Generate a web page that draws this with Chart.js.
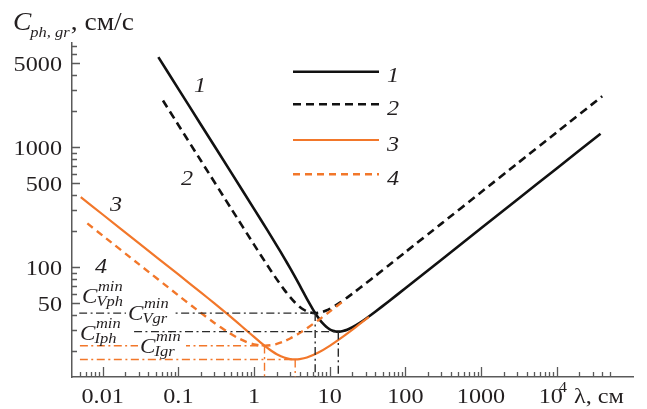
<!DOCTYPE html>
<html>
<head>
<meta charset="utf-8">
<script src="https://cdn.jsdelivr.net/npm/chart.js@4.4.1/dist/chart.umd.min.js"></script>
<style>
  body { margin: 0; background: #fff; }
  canvas { display: block; }
</style>
</head>
<body>
<canvas id="chart" width="647" height="409"></canvas>
<script>
// curve 1: group velocity, case V (black solid)
const lamVgr = [0.0544, 0.1, 0.2, 0.5, 1, 1.5, 2, 2.5, 3, 3.5, 4, 4.5, 5, 5.5, 6, 6.5, 7, 7.5, 8, 9, 10, 11, 12, 13, 14, 15, 17, 20, 25, 30, 40, 60, 100, 300, 1000, 3000, 10000, 38000];
const cVgr   = [5636, 3066, 1533, 613.0, 306.1, 203.1, 151.1, 119.4, 97.89, 82.31, 70.55, 61.47, 54.36, 48.77, 44.35, 40.85, 38.09, 35.89, 34.16, 31.72, 30.26, 29.43, 29.03, 28.92, 29.01, 29.25, 29.99, 31.46, 34.24, 37.06, 42.38, 51.64, 66.55, 115.2, 210.4, 364.4, 665.2, 1297];
// curve 2: phase velocity, case V (black dashed)
const lamVph = [0.0626, 0.1, 0.2, 0.5, 1, 1.5, 2, 2.5, 3, 3.5, 4, 4.5, 5, 5.5, 6, 6.5, 7, 7.5, 8, 9, 10, 11, 12, 14, 17, 20, 25, 30, 40, 60, 100, 300, 1000, 3000, 10000, 40000];
const cVph   = [2449, 1533, 766.5, 306.7, 153.9, 103.5, 78.9, 64.83, 56.05, 50.38, 46.66, 44.24, 42.72, 41.84, 41.41, 41.31, 41.46, 41.78, 42.23, 43.39, 44.78, 46.27, 47.82, 50.97, 55.59, 59.99, 66.80, 73.05, 84.23, 103.1, 133.1, 230.4, 420.7, 728.7, 1330, 2661];
// curve 3: group velocity, case I (orange solid)
const lamIgr = [0.00513, 0.01, 0.03, 0.1, 0.2, 0.3, 0.45, 0.6, 0.8, 1, 1.25, 1.5, 1.75, 2, 2.5, 3, 3.5, 4, 5, 7, 10, 15, 20, 25, 33];
const cIgr   = [383.3, 274.5, 158.5, 86.74, 61.18, 49.75, 40.29, 34.55, 29.52, 26.12, 23.18, 21.16, 19.75, 18.76, 17.59, 17.08, 16.95, 17.05, 17.60, 19.27, 22.02, 26.30, 30.10, 33.51, 38.38];
// curve 4: phase velocity, case I (orange dashed)
const lamIph = [0.00627, 0.01, 0.03, 0.1, 0.15, 0.2, 0.3, 0.45, 0.6, 0.8, 1, 1.2, 1.4, 1.7, 2, 2.5, 3, 4, 5, 7, 10, 15];
const cIph   = [231.2, 183.0, 105.7, 58.03, 47.54, 41.36, 34.20, 28.71, 25.78, 23.67, 22.63, 22.17, 22.07, 22.32, 22.84, 24.01, 25.35, 28.14, 30.85, 35.87, 42.47, 51.74];

// minima: C_Vph, C_Vgr, C_Iph, C_Igr
const minNames = ['Vph', 'Vgr', 'Iph', 'Igr'];
const minLam   = [6.43, 13, 1.376, 3.5];
const minVal   = [41.31, 28.92, 22.07, 16.95];
const minFrom  = [0.0049, 0.026, 0.005, 0.005];

const xMin = 0.00393, xMax = 1.02e5;
const yMin = 12.1, yMax = 7400;
const xMajor = [0.01, 0.1, 1, 10, 100, 1000, 10000];
const xLabels = ['0.01', '0.1', '1', '10', '100', '1000', '10'];
const yMajor = [50, 100, 500, 1000, 5000];
const yLabels = ['50', '100', '500', '1000', '5000'];
const curveNames = ['1', '2', '3', '4'];

const ORANGE = '#f2772a';
const BLACK = '#111111';
const TEXT = '#231f20';
const AXIS = '#5a5a5a';
const SERIF = '"Liberation Serif", "Times New Roman", serif';
const SX = 1.1;

const pts = (xs, ys) => xs.map((x, i) => ({ x: x, y: ys[i] }));

const datasets = [];
minNames.forEach((n, i) => {
  const col = i < 2 ? '#2a2a2a' : ORANGE;
  datasets.push({
    label: 'h' + n,
    data: [{ x: minFrom[i], y: minVal[i] }, { x: minLam[i], y: minVal[i] }],
    borderColor: col, borderWidth: 1.4, borderDash: [8, 3.5, 2, 3.5]
  });
  datasets.push({
    label: 'v' + n,
    data: [{ x: minLam[i], y: minVal[i] }, { x: minLam[i], y: yMin }],
    borderColor: col, borderWidth: 1.4, borderDash: [8, 3.5, 2, 3.5]
  });
});
datasets.push({ label: '4', data: pts(lamIph, cIph), borderColor: ORANGE, borderWidth: 2.4, borderDash: [7, 5] });
datasets.push({ label: '3', data: pts(lamIgr, cIgr), borderColor: ORANGE, borderWidth: 2.2 });
datasets.push({ label: '2', data: pts(lamVph, cVph), borderColor: BLACK, borderWidth: 2.6, borderDash: [8, 5] });
datasets.push({ label: '1', data: pts(lamVgr, cVgr), borderColor: BLACK, borderWidth: 2.6 });
datasets.forEach(d => {
  d.showLine = true;
  d.pointRadius = 0;
  d.tension = 0.2;
  d.fill = false;
});

function txt(ctx, s, x, y, font, align, color) {
  ctx.save();
  ctx.font = font;
  ctx.fillStyle = color || TEXT;
  ctx.textBaseline = 'alphabetic';
  const w = ctx.measureText(s).width * SX;
  const x0 = align === 'right' ? x - w : align === 'center' ? x - w / 2 : x;
  ctx.translate(x0, y);
  ctx.scale(SX, 1);
  ctx.fillText(s, 0, 0);
  ctx.restore();
  return w;
}

function minLabel(ctx, sub, x, b, blank) {
  const fC = 'italic 21px ' + SERIF;
  const fS = 'italic 15px ' + SERIF;
  if (blank) {
    ctx.save();
    ctx.fillStyle = '#fff';
    ctx.fillRect(x - 2, b - 17, 48, 22);
    ctx.restore();
  }
  const w = txt(ctx, 'C', x, b, fC);
  txt(ctx, 'min', x + w + 0.5, b - 12, fS);
  txt(ctx, sub, x + w - 1, b + 3, fS);
}

const decor = {
  id: 'decor',
  afterDatasetsDraw(chart) {
    const ctx = chart.ctx;
    const xs = chart.scales.x, ys = chart.scales.y;
    const a = chart.chartArea;

    // inward ticks
    ctx.save();
    ctx.strokeStyle = AXIS;
    ctx.lineWidth = 1.3;
    ctx.beginPath();
    for (let e = -3; e <= 4; e++) {
      for (let m = 1; m <= 9; m++) {
        const v = m * Math.pow(10, e);
        if (v < 0.0049 || v > 50001) continue;
        const px = Math.round(xs.getPixelForValue(v)) + 0.5;
        const len = m === 1 ? 10 : 5;
        ctx.moveTo(px, a.bottom);
        ctx.lineTo(px, a.bottom - len);
      }
    }
    for (let e = 1; e <= 3; e++) {
      for (let m = 1; m <= 9; m++) {
        const v = m * Math.pow(10, e);
        if (v < yMin || v > yMax) continue;
        const py = Math.round(ys.getPixelForValue(v)) + 0.5;
        const len = yMajor.includes(v) ? 8 : 5;
        ctx.moveTo(a.left, py);
        ctx.lineTo(a.left + len, py);
      }
    }
    ctx.stroke();
    ctx.restore();

    // tick labels
    const fT = '22px ' + SERIF;
    xMajor.forEach((v, i) => {
      const px = xs.getPixelForValue(v);
      if (v === 10000) {
        txt(ctx, '10', px - 18, 403, fT);
        txt(ctx, '4', px + 2, 392, '15px ' + SERIF);
      } else {
        txt(ctx, xLabels[i], px, 403, fT, 'center');
      }
    });
    txt(ctx, 'λ, см', 574, 403, fT);
    yMajor.forEach((v, i) => {
      const py = ys.getPixelForValue(v);
      txt(ctx, yLabels[i], 62, py + 7.5, fT, 'right');
    });

    // axis title
    const w = txt(ctx, 'C', 13, 30, 'italic 25px ' + SERIF);
    const ws = txt(ctx, 'ph, gr', 13 + w - 1, 37, 'italic 15px ' + SERIF);
    txt(ctx, ', см/с', Math.max(69, 13 + w + ws), 30, '25px ' + SERIF);

    // legend
    const legY = [71.7, 104.3, 140, 174.3];
    curveNames.forEach((name, i) => {
      const d = chart.data.datasets.find(s => s.label === name);
      ctx.save();
      ctx.strokeStyle = d.borderColor;
      ctx.lineWidth = d.borderWidth;
      ctx.setLineDash(d.borderDash || []);
      ctx.beginPath();
      ctx.moveTo(293, legY[i]);
      ctx.lineTo(379, legY[i]);
      ctx.stroke();
      ctx.restore();
      txt(ctx, name, 387, legY[i] + 10.5, 'italic 22px ' + SERIF);
    });

    // curve labels
    const fN = 'italic 22px ' + SERIF;
    txt(ctx, '1', 200, 92, fN, 'center');
    txt(ctx, '2', 187, 185, fN, 'center');
    txt(ctx, '3', 116, 211, fN, 'center');
    txt(ctx, '4', 101, 273, fN, 'center');

    // minimum labels
    minLabel(ctx, 'Vph', 82, 303, false);
    minLabel(ctx, 'Vgr', 128, 320, true);
    minLabel(ctx, 'Iph', 80, 340, false);
    minLabel(ctx, 'Igr', 140, 353, true);
  }
};

new Chart(document.getElementById('chart'), {
  type: 'scatter',
  data: { datasets: datasets },
  options: {
    responsive: false,
    animation: false,
    devicePixelRatio: 1,
    layout: { padding: { top: 43, right: 14, left: 0, bottom: 0 } },
    plugins: { legend: { display: false }, tooltip: { enabled: false } },
    scales: {
      x: {
        type: 'logarithmic', min: xMin, max: xMax,
        ticks: { display: false },
        grid: { display: false },
        border: { display: true, color: AXIS, width: 1.5 },
        afterFit: s => { s.height = 32; }
      },
      y: {
        type: 'logarithmic', min: yMin, max: yMax,
        ticks: { display: false },
        grid: { display: false },
        border: { display: true, color: AXIS, width: 1.5 },
        afterFit: s => { s.width = 72; }
      }
    }
  },
  plugins: [decor]
});
</script>
</body>
</html>
